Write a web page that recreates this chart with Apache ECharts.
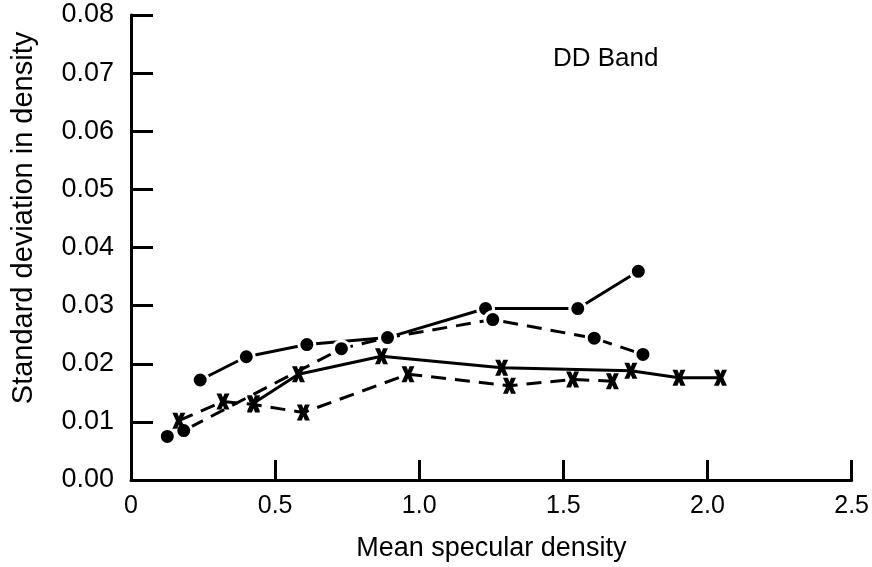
<!DOCTYPE html>
<html>
<head>
<meta charset="utf-8">
<script src="https://cdn.jsdelivr.net/npm/echarts@6/dist/echarts.min.js"></script>
<style>
html,body{margin:0;padding:0;background:#fff;}
#chart{width:872px;height:567px;}
</style>
</head>
<body>
<div id="chart"></div>
<script>
// ---- data ----
const xTickLabels = ['0', '0.5', '1.0', '1.5', '2.0', '2.5'];
const yTickLabels = ['0.00', '0.01', '0.02', '0.03', '0.04', '0.05', '0.06', '0.07', '0.08'];

// solid line, dot markers
const solidDotX = [0.24, 0.40, 0.61, 0.89, 1.23, 1.55, 1.76];
const solidDotY = [0.0172, 0.0212, 0.0233, 0.0245, 0.0295, 0.0295, 0.0359];
// dashed line, dot markers
const dashedDotX = [0.126, 0.183, 0.73, 0.89, 1.255, 1.607, 1.776];
const dashedDotY = [0.0075, 0.0085, 0.0226, 0.0245, 0.0276, 0.0244, 0.0216];
// solid line, x markers
const solidCrossX = [0.425, 0.581, 0.869, 1.286, 1.734, 1.901, 2.045];
const solidCrossY = [0.0132, 0.0182, 0.0213, 0.0193, 0.0188, 0.0176, 0.0176];
// dashed line, x markers
const dashedCrossX = [0.166, 0.319, 0.425, 0.598, 0.961, 1.313, 1.532, 1.670];
const dashedCrossY = [0.0102, 0.0135, 0.0130, 0.0116, 0.0182, 0.0162, 0.0173, 0.0170];

const chartTitle = 'DD Band';
const xName = 'Mean specular density';
const yName = 'Standard deviation in density';

function pairs(xs, ys) { return xs.map((x, i) => [x, ys[i]]); }

const FONT = 'Liberation Sans, Arial, Helvetica, sans-serif';
const crossPath = 'path://M0,0 L3.8,0 L5,3 L6.2,0 L10,0 L7.2,6 L10,12 L6.2,12 L5,9 L3.8,12 L0,12 L2.8,6 Z';

function mkSeries(data, dashed, cross) {
  return {
    type: 'line',
    data: data,
    symbol: cross ? crossPath : 'circle',
    symbolSize: cross ? [13, 16] : 16,
    showAllSymbol: true,
    lineStyle: { color: '#000', width: 3, type: dashed ? [15, 9] : 'solid' },
    itemStyle: cross
      ? { color: '#000', borderColor: '#fff', borderWidth: 0 }
      : { color: '#000', borderColor: '#fff', borderWidth: 3 },
    emphasis: { disabled: true },
    animation: false
  };
}

const chart = echarts.init(document.getElementById('chart'), null, { renderer: 'canvas' });
chart.setOption({
  backgroundColor: '#fff',
  animation: false,
  grid: { left: 131, right: 17, top: 15, bottom: 86, containLabel: false },
  xAxis: {
    type: 'value', min: 0, max: 2.5, interval: 0.5,
    axisLine: { show: true, onZero: false, lineStyle: { color: '#000', width: 3 } },
    axisTick: { show: true, inside: true, length: 20, lineStyle: { color: '#000', width: 3 } },
    splitLine: { show: false },
    axisLabel: {
      color: '#000', fontFamily: FONT, fontSize: 25, margin: 14,
      formatter: (v, i) => xTickLabels[i]
    },
    name: xName, nameLocation: 'middle', nameGap: 55,
    nameTextStyle: { color: '#000', fontFamily: FONT, fontSize: 27 }
  },
  yAxis: {
    type: 'value', min: 0, max: 0.08, interval: 0.01,
    axisLine: { show: true, onZero: false, lineStyle: { color: '#000', width: 3 } },
    axisTick: { show: true, inside: true, length: 22, lineStyle: { color: '#000', width: 3 } },
    splitLine: { show: false },
    axisLabel: {
      color: '#000', fontFamily: FONT, fontSize: 27, margin: 17,
      formatter: (v, i) => yTickLabels[i]
    }
  },
  graphic: [
    {
      type: 'text', left: 553, top: 46,
      style: { text: chartTitle, fill: '#000', font: '26px ' + FONT }
    },
    {
      type: 'text', x: 24, y: 218, rotation: Math.PI / 2,
      style: { text: yName, fill: '#000', font: '29px ' + FONT, align: 'center', verticalAlign: 'middle' }
    }
  ],
  series: [
    mkSeries(pairs(solidDotX, solidDotY), false, false),
    mkSeries(pairs(dashedDotX, dashedDotY), true, false),
    mkSeries(pairs(solidCrossX, solidCrossY), false, true),
    mkSeries(pairs(dashedCrossX, dashedCrossY), true, true)
  ]
});
</script>
</body>
</html>
